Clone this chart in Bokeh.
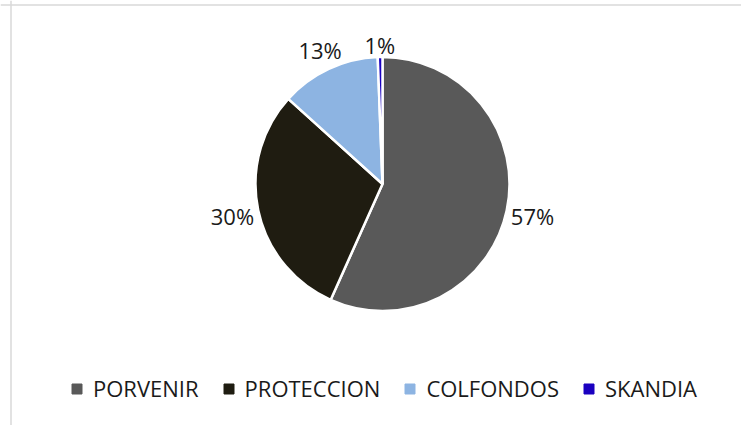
import math
from bokeh.plotting import figure
from bokeh.models import Range1d, ColumnDataSource, Legend, LegendItem, Span
from bokeh.core.properties import value
from bokeh.embed import file_html
from bokeh.resources import INLINE

# ---- data ----
categories = ["PORVENIR", "PROTECCION", "COLFONDOS", "SKANDIA"]
shares = [56.7, 30.0, 12.7, 0.6]
colors = ["#595959", "#1F1C11", "#8DB4E2", "#1A00C0"]

FONT = "Open Sans"
W, H = 741, 425

p = figure(width=W, height=H, output_backend="svg", toolbar_location=None,
           x_range=Range1d(0, W), y_range=Range1d(0, H),
           min_border=0, outline_line_color=None, background_fill_color="white")
p.xaxis.visible = False
p.yaxis.visible = False
p.grid.visible = False

cx, cy, R = 382, 241.5, 127
total = sum(shares)
starts, ends, mids = [], [], []
acc = 0.0
for s in shares:
    a0 = math.pi / 2 - 2 * math.pi * acc / total
    acc += s
    a1 = math.pi / 2 - 2 * math.pi * acc / total
    starts.append(a0)
    ends.append(a1)
    mids.append((a0 + a1) / 2)

src = ColumnDataSource(dict(x=[cx] * 4, y=[cy] * 4, start=starts, end=ends,
                            color=colors, cat=categories))
p.wedge(x="x", y="y", radius=R, start_angle="start", end_angle="end",
        direction="clock", fill_color="color", line_color="white",
        line_width=2.5, source=src)

# data labels
lx, ly, lt = [], [], []
for s, m in zip(shares, mids):
    dx, dy = math.cos(m), math.sin(m)
    r = R + 3 + 22 * abs(dx) + 9 * abs(dy)
    lx.append(cx + r * dx)
    ly.append(cy + r * dy)
    lt.append(f"{round(s)}%")
p.text(x=lx, y=ly, text=lt, text_align="center", text_baseline="middle",
       text_font=value(FONT), text_font_size="22px", text_color="#1A1A1A")

# legend
items = []
for c, col in zip(categories, colors):
    r = p.scatter(x=[float("nan")], y=[float("nan")], marker="square",
                  size=10, fill_color=col, line_color=col)
    items.append(LegendItem(label=c, renderers=[r]))
legend = Legend(items=items, orientation="horizontal", location=(64, 22),
                glyph_width=25, glyph_height=25, label_height=25,
                label_standoff=4, spacing=17, padding=0, margin=0,
                border_line_color=None, background_fill_alpha=0,
                label_text_font=FONT, label_text_font_size="22px",
                label_text_color="#1A1A1A")
p.add_layout(legend, "center")

# chart border (left and top)
p.add_layout(Span(location=10.5, dimension="height", line_color="#D9D9D9", line_width=1.5))
p.add_layout(Span(location=H - 4.5, dimension="width", line_color="#D9D9D9", line_width=1.5))

open("out.html", "w").write(file_html(p, INLINE))
